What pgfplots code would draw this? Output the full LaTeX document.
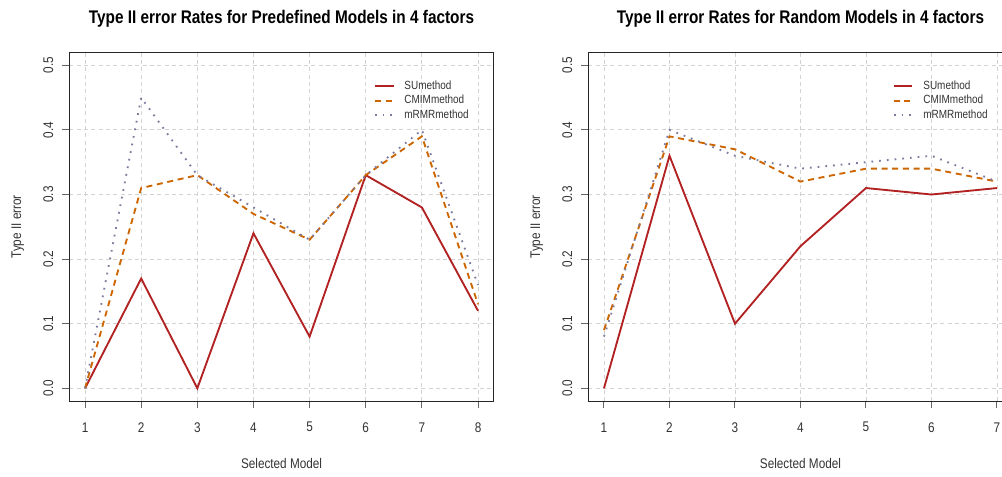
\documentclass[border=0pt]{standalone}
\usepackage{pgfplots}
\pgfplotsset{compat=1.18}
\usepackage{fontspec}
\setmainfont[FakeStretch=0.84]{Liberation Sans}
\definecolor{sucol}{HTML}{B22222}
\definecolor{cmcol}{HTML}{CD6600}
\definecolor{mrcol}{HTML}{7B7BA0}
\definecolor{txt}{HTML}{333333}
\pgfplotsset{
  myax/.style={
    scale only axis, anchor=south west,
    width=318.3pt, height=261.6pt,
    ymin=-0.02, ymax=0.52,
    ytick={0,0.1,0.2,0.3,0.4,0.5},
    yticklabels={0.0,0.1,0.2,0.3,0.4,0.5},
    xtick distance=1,
    axis line style={black!85, line width=0.75pt},
    tick style={black!60, line width=0.75pt},
    major tick length=5.25pt,
    tick align=outside,
    xtick pos=bottom, ytick pos=left,
    grid=major,
    grid style={gray!35, line width=0.7pt, dash pattern=on 3pt off 2.5pt},
    /pgf/number format/assume math mode=true,
    ticklabel style={font=\fontsize{10.5}{12}\selectfont, text=txt},
    xticklabel style={anchor=center, yshift=-14.25pt},
    yticklabel style={anchor=center, xshift=-10.5pt, rotate=90},
    xlabel style={at={(axis description cs:0.5,-0.178)}, anchor=center, font=\fontsize{10.5}{12}\selectfont, text=txt},
    ylabel style={at={(axis description cs:-0.1215,0.5)}, anchor=center, rotate=0, font=\fontsize{10.5}{12}\selectfont, text=txt},
    title style={at={(axis description cs:0.5,1.0745)}, anchor=center, font=\fontsize{13.7}{15}\selectfont\bfseries, text=black},
    xlabel={Selected Model}, ylabel={Type II error},
    legend style={draw=none, fill=none, anchor=north west, inner sep=0pt,
      font=\fontsize{8.9}{10}\selectfont, text=txt, row sep=0pt, column sep=0pt,
      nodes={inner sep=0pt, minimum height=10.9pt}},
    legend cell align=left,
    legend image code/.code={\draw[##1] (0pt,0pt) -- (14pt,0pt); \path (21.5pt,0pt);},
  },
  su/.style={sucol, line width=1.4pt},
  cm/.style={cmcol, line width=1.4pt, dash pattern=on 4.5pt off 3.5pt},
  mr/.style={mrcol, line width=1.4pt, dash pattern=on 1.3pt off 4.5pt},
}
\begin{document}
\begin{tikzpicture}
\begin{axis}[myax, at={(52pt,56.1pt)}, xmin=0.72, xmax=8.28,
  title={Type II error Rates for Predefined Models in 4 factors},
  legend style={at={(axis description cs:0.717,0.925)}}]
\addplot[su] coordinates {(1,0) (2,0.17) (3,0) (4,0.24) (5,0.08) (6,0.33) (7,0.28) (8,0.12)};
\addplot[cm] coordinates {(1,0) (2,0.31) (3,0.33) (4,0.27) (5,0.23) (6,0.33) (7,0.39) (8,0.13)};
\addplot[mr] coordinates {(1,0) (2,0.45) (3,0.33) (4,0.28) (5,0.23) (6,0.33) (7,0.40) (8,0.16)};
\legend{SUmethod,CMIMmethod,mRMRmethod}
\end{axis}
\begin{axis}[myax, at={(441.2pt,56.1pt)}, xmin=0.76, xmax=7.24,
  title={Type II error Rates for Random Models in 4 factors},
  legend style={at={(axis description cs:0.717,0.925)}}]
\addplot[su] coordinates {(1,0) (2,0.36) (3,0.10) (4,0.22) (5,0.31) (6,0.30) (7,0.31)};
\addplot[cm] coordinates {(1,0.09) (2,0.39) (3,0.37) (4,0.32) (5,0.34) (6,0.34) (7,0.32)};
\addplot[mr] coordinates {(1,0.08) (2,0.40) (3,0.36) (4,0.34) (5,0.35) (6,0.36) (7,0.32)};
\legend{SUmethod,CMIMmethod,mRMRmethod}
\end{axis}
\pgfresetboundingbox
\useasboundingbox (0pt,0pt) rectangle (751.5pt,357pt);
\end{tikzpicture}
\end{document}
